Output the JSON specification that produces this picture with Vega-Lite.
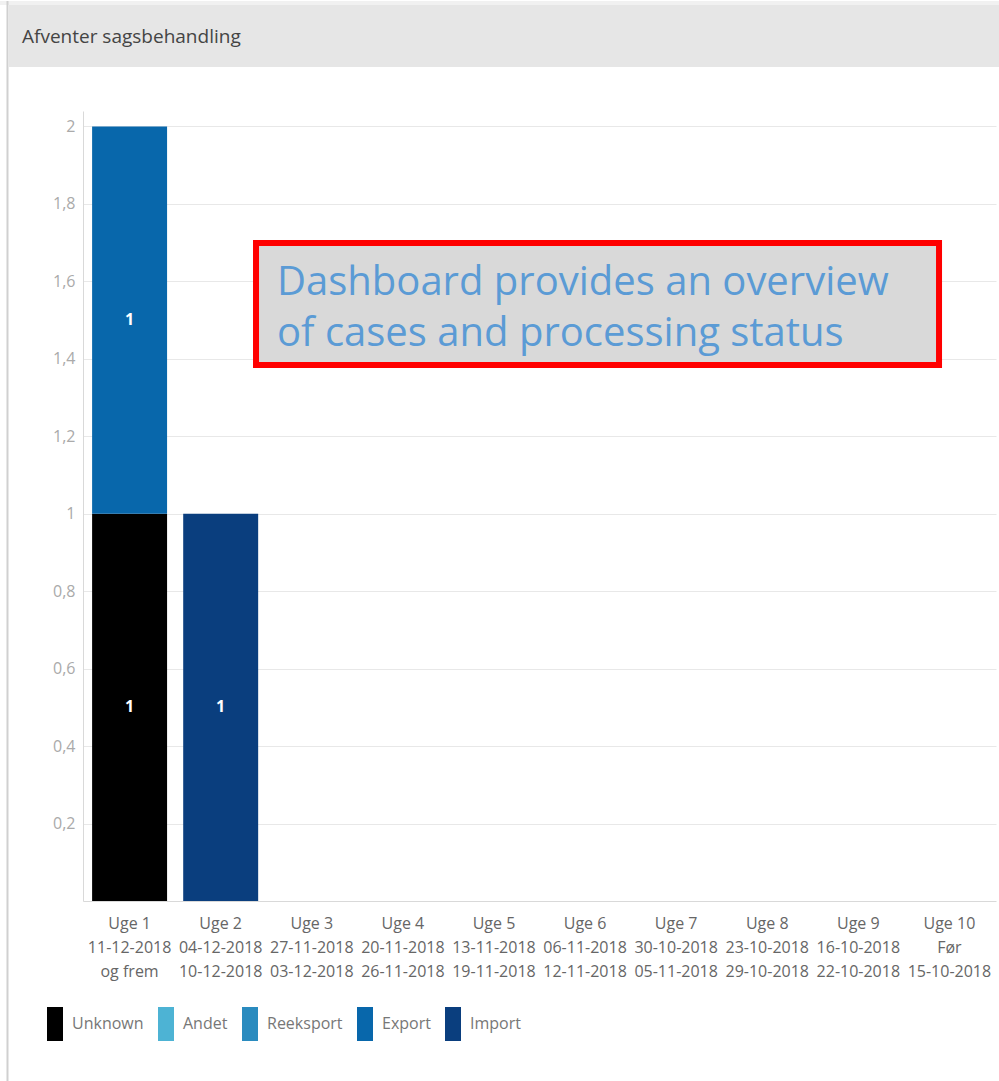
{
  "$schema": "https://vega.github.io/schema/vega-lite/v6.json",
  "padding": 0,
  "background": "#ffffff",
  "width": 913,
  "height": 790,
  "config": {"view": {"stroke": null}, "font": "Open Sans"},
  "layer": [
    {
      "data": {"values": [
        {"week": "Uge 1|11-12-2018|og frem", "type": "Unknown", "count": 1},
        {"week": "Uge 1|11-12-2018|og frem", "type": "Export", "count": 1},
        {"week": "Uge 2|04-12-2018|10-12-2018", "type": "Import", "count": 1}
      ]},
      "transform": [
        {"calculate": "indexof(['Unknown','Andet','Reeksport','Export','Import'], datum.type)", "as": "ord"},
        {"stack": "count", "groupby": ["week"], "sort": [{"field": "ord", "order": "ascending"}], "as": ["y0", "y1"]},
        {"calculate": "(datum.y0 + datum.y1) / 2", "as": "mid"}
      ],
      "encoding": {
        "x": {
          "field": "week",
          "type": "nominal",
          "scale": {
            "domain": [
              "Uge 1|11-12-2018|og frem",
              "Uge 2|04-12-2018|10-12-2018",
              "Uge 3|27-11-2018|03-12-2018",
              "Uge 4|20-11-2018|26-11-2018",
              "Uge 5|13-11-2018|19-11-2018",
              "Uge 6|06-11-2018|12-11-2018",
              "Uge 7|30-10-2018|05-11-2018",
              "Uge 8|23-10-2018|29-10-2018",
              "Uge 9|16-10-2018|22-10-2018",
              "Uge 10|Før|15-10-2018"
            ],
            "paddingInner": 0.177,
            "paddingOuter": 0.1
          },
          "axis": {
            "title": null,
            "labelExpr": "split(datum.label, '|')",
            "labelAngle": 0,
            "labelFontSize": 16,
            "labelFont": "Open Sans",
            "labelColor": "#666666",
            "labelLineHeight": 24,
            "labelPadding": 14,
            "ticks": false,
            "domainColor": "#d9d9d9",
            "grid": false,
            "labelOverlap": false,
            "labelLimit": 0
          }
        }
      },
      "layer": [
        {
          "mark": {"type": "bar"},
          "encoding": {
            "y": {
              "field": "y0",
              "type": "quantitative",
              "scale": {"domain": [0, 2.04], "nice": false},
              "axis": {
                "title": null,
                "values": [0.2, 0.4, 0.6, 0.8, 1, 1.2, 1.4, 1.6, 1.8, 2],
                "labelExpr": "replace(format(datum.value, '~g'), '.', ',')",
                "labelFontSize": 16,
                "labelFont": "Open Sans",
                "labelColor": "#aaaaaa",
                "labelPadding": 8,
                "ticks": false,
                "domainColor": "#d9d9d9",
                "gridColor": "#e8e8e8"
              }
            },
            "y2": {"field": "y1"},
            "color": {
              "field": "type",
              "type": "nominal",
              "scale": {
                "domain": ["Unknown", "Andet", "Reeksport", "Export", "Import"],
                "range": ["#000000", "#4db3d4", "#2a8bbf", "#0867ab", "#0a3e7e"]
              },
              "legend": {
                "title": null,
                "orient": "none",
                "legendX": -45,
                "legendY": 896,
                "direction": "horizontal",
                "columns": 5,
                "symbolType": "M-0.47,-1V1H0.47V-1Z",
                "symbolSize": 1156,
                "symbolStrokeWidth": 0,
                "labelOffset": 0,
                "columnPadding": 5,
                "labelFontSize": 16,
                "labelFont": "Open Sans",
                "labelColor": "#777777",
                "padding": 0
              }
            }
          }
        },
        {
          "mark": {"type": "text", "color": "#ffffff", "fontWeight": "bold", "fontSize": 16, "baseline": "middle", "font": "Open Sans"},
          "encoding": {
            "y": {"field": "mid", "type": "quantitative"},
            "text": {"field": "count", "type": "quantitative"}
          }
        }
      ]
    },
    {
      "data": {"values": [{"heading": "Afventer sagsbehandling", "note": "Dashboard provides an overview\nof cases and processing status"}]},
      "layer": [
        {
          "mark": {"type": "rect", "fill": "#f1f1f1"},
          "encoding": {
            "x": {"datum": -0.909, "type": "quantitative", "scale": {"domain": [0, 10], "nice": false}, "axis": null},
            "x2": {"datum": 10.033},
            "y": {"datum": 2.324, "type": "quantitative"},
            "y2": {"datum": 2.3137}
          }
        },
        {
          "mark": {"type": "rect", "fill": "#e6e6e6"},
          "encoding": {
            "x": {"datum": -0.8105, "type": "quantitative"},
            "x2": {"datum": 10.033},
            "y": {"datum": 2.3137, "type": "quantitative"},
            "y2": {"datum": 2.1536}
          }
        },
        {
          "mark": {"type": "rule", "color": "#d0d0d0", "strokeWidth": 2},
          "encoding": {
            "x": {"datum": -0.827, "type": "quantitative"},
            "y": {"datum": 2.324, "type": "quantitative"},
            "y2": {"datum": -0.467}
          }
        },
        {
          "mark": {"type": "text", "align": "left", "baseline": "middle", "fontSize": 19, "color": "#444444", "font": "Open Sans"},
          "encoding": {
            "x": {"datum": -0.668, "type": "quantitative"},
            "y": {"datum": 2.2311, "type": "quantitative"},
            "text": {"field": "heading"}
          }
        },
        {
          "mark": {"type": "rect", "fill": "#d9d9d9", "stroke": "#ff0000", "strokeWidth": 6},
          "encoding": {
            "x": {"datum": 1.895, "type": "quantitative"},
            "x2": {"datum": 9.376},
            "y": {"datum": 1.384, "type": "quantitative"},
            "y2": {"datum": 1.699}
          }
        },
        {
          "mark": {"type": "text", "align": "left", "baseline": "alphabetic", "fontSize": 40, "color": "#5b9bd5", "lineBreak": "\n", "lineHeight": 51, "font": "Open Sans"},
          "encoding": {
            "x": {"datum": 2.125, "type": "quantitative"},
            "y": {"datum": 1.565, "type": "quantitative"},
            "text": {"field": "note"}
          }
        }
      ]
    }
  ],
  "resolve": {"scale": {"x": "independent"}}
}
